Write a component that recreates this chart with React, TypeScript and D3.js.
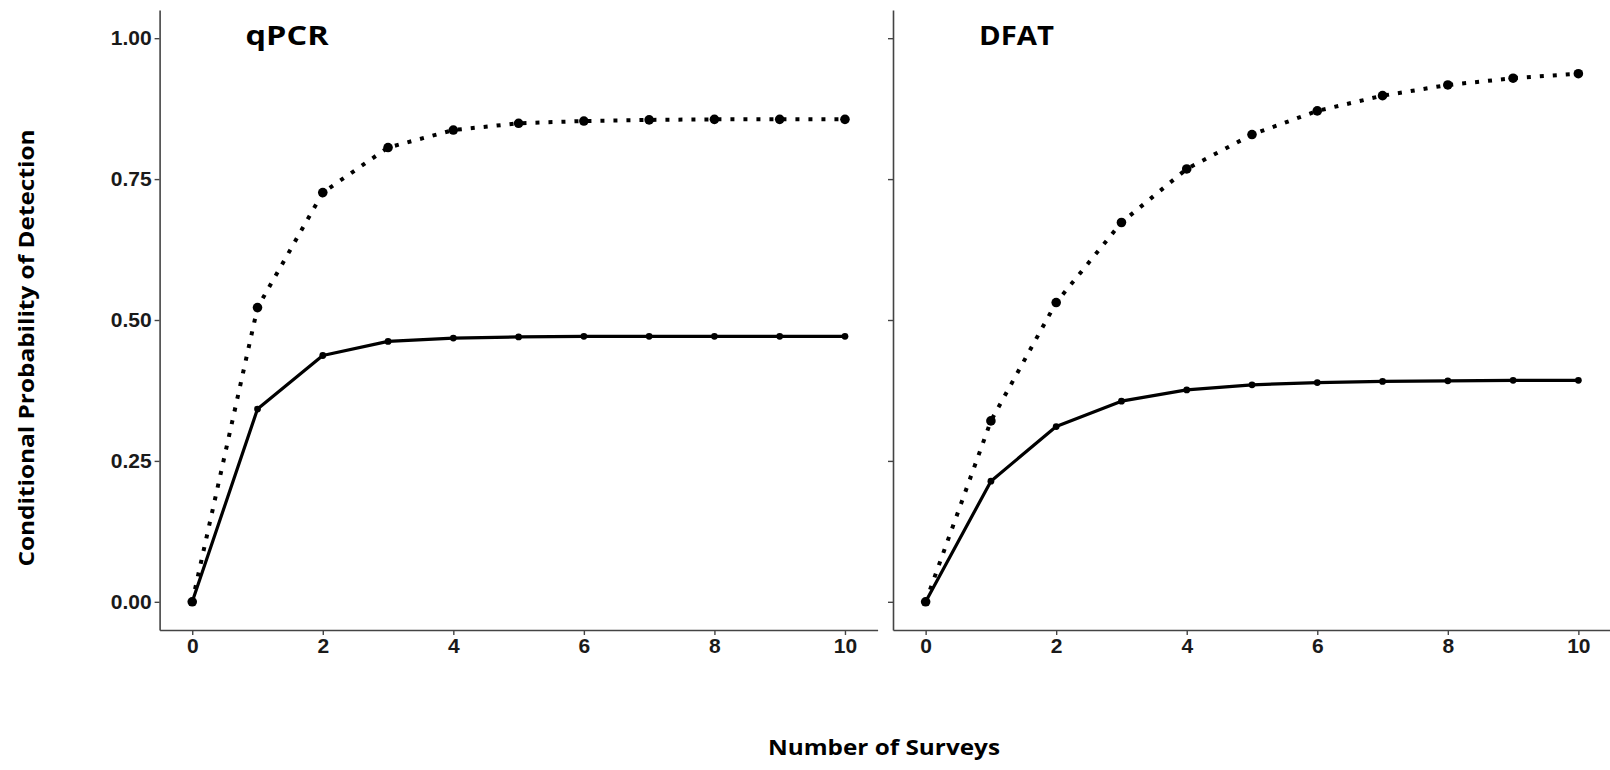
import React, { useRef, useEffect } from 'react';
import * as d3 from 'd3';

// survey counts on the x axis
const surveys = [0, 1, 2, 3, 4, 5, 6, 7, 8, 9, 10];

// qPCR panel
const qpcrDotted = [0, 0.522, 0.726, 0.806, 0.837, 0.849, 0.853, 0.855, 0.856, 0.856, 0.856];
const qpcrSolid = [0, 0.342, 0.437, 0.462, 0.468, 0.47, 0.471, 0.471, 0.471, 0.471, 0.471];

// DFAT panel
const dfatDotted = [0, 0.321, 0.531, 0.673, 0.768, 0.829, 0.871, 0.898, 0.917, 0.929, 0.937];
const dfatSolid = [0, 0.214, 0.311, 0.356, 0.376, 0.385, 0.389, 0.391, 0.392, 0.393, 0.393];

const panelTitles = ['qPCR', 'DFAT'];
const yTicks = [0, 0.25, 0.5, 0.75, 1];
const xTicks = [0, 2, 4, 6, 8, 10];

const W = 1610;
const H = 770;

function App() {
  const svgRef = useRef(null);

  useEffect(() => {
    const svg = d3.select(svgRef.current);
    svg.selectAll('*').remove();

    const panels = [
      { title: panelTitles[0], left: 159.6, dotted: qpcrDotted, solid: qpcrSolid, labels: true, titleW: 83 },
      { title: panelTitles[1], left: 893, dotted: dfatDotted, solid: dfatSolid, labels: false, titleW: 75 },
    ];
    const panelW = 718;

    const y = d3.scaleLinear().domain([-0.05, 1.05]).range([630, 10]);
    const axisColor = '#444';

    panels.forEach((p) => {
      const x = d3.scaleLinear().domain([-0.5, 10.5]).range([p.left, p.left + panelW]);
      const g = svg.append('g');

      // y axis
      const ya = g.append('g').attr('transform', `translate(${p.left},0)`)
        .call(d3.axisLeft(y).tickValues(yTicks).tickSizeInner(5).tickSizeOuter(0)
          .tickFormat(p.labels ? d3.format('.2f') : () => ''));
      ya.select('.domain').attr('stroke', axisColor).attr('stroke-width', 1.6);
      ya.selectAll('.tick line').attr('stroke', axisColor).attr('stroke-width', 1.4);
      ya.selectAll('.tick text')
        .attr('font-family', '"Liberation Sans", Arial, sans-serif')
        .attr('font-weight', 'bold').attr('font-size', 21).attr('fill', '#1a1a1a')
        .attr('x', -8);

      // x axis
      const xa = g.append('g').attr('transform', `translate(0,630)`)
        .call(d3.axisBottom(x).tickValues(xTicks).tickSizeInner(5).tickSizeOuter(0)
          .tickFormat(d3.format('d')));
      xa.select('.domain').attr('stroke', axisColor).attr('stroke-width', 1.6);
      xa.selectAll('.tick line').attr('stroke', axisColor).attr('stroke-width', 1.4);
      xa.selectAll('.tick text')
        .attr('font-family', '"Liberation Sans", Arial, sans-serif')
        .attr('font-weight', 'bold').attr('font-size', 21).attr('fill', '#1a1a1a')
        .attr('y', 8);

      const line = d3.line().x((d) => x(d[0])).y((d) => y(d[1]));

      // dotted series
      g.append('path')
        .datum(surveys.map((s, i) => [s, p.dotted[i]]))
        .attr('d', line)
        .attr('fill', 'none')
        .attr('stroke', '#000')
        .attr('stroke-width', 4)
        .attr('stroke-dasharray', '4 9');
      g.selectAll('.bigpt')
        .data(surveys)
        .join('circle')
        .attr('class', 'bigpt')
        .attr('cx', (s) => x(s))
        .attr('cy', (s, i) => y(p.dotted[i]))
        .attr('r', 4.8)
        .attr('fill', '#000');

      // solid series
      g.append('path')
        .datum(surveys.map((s, i) => [s, p.solid[i]]))
        .attr('d', line)
        .attr('fill', 'none')
        .attr('stroke', '#000')
        .attr('stroke-width', 3.2)
        .attr('stroke-linejoin', 'round');
      g.selectAll('.smallpt')
        .data(surveys)
        .join('circle')
        .attr('class', 'smallpt')
        .attr('cx', (s) => x(s))
        .attr('cy', (s, i) => y(p.solid[i]))
        .attr('r', 3.4)
        .attr('fill', '#000');

      // panel title
      g.append('text')
        .attr('x', p.left + 86)
        .attr('y', 45)
        .attr('font-family', '"Open Sans", sans-serif')
        .attr('font-weight', 'bold')
        .attr('font-size', 27)
        .attr('textLength', p.titleW)
        .attr('lengthAdjust', 'spacingAndGlyphs')
        .text(p.title);
    });

    // axis titles
    svg.append('text')
      .attr('transform', 'translate(34,348) rotate(-90)')
      .attr('text-anchor', 'middle')
      .attr('font-family', '"Open Sans", sans-serif')
      .attr('font-weight', 'bold')
      .attr('font-size', 22)
      .attr('textLength', 437)
      .attr('lengthAdjust', 'spacingAndGlyphs')
      .text('Conditional Probability of Detection');

    svg.append('text')
      .attr('x', 884)
      .attr('y', 755)
      .attr('text-anchor', 'middle')
      .attr('font-family', '"Open Sans", sans-serif')
      .attr('font-weight', 'bold')
      .attr('font-size', 22)
      .attr('textLength', 232)
      .attr('lengthAdjust', 'spacingAndGlyphs')
      .text('Number of Surveys');
  }, []);

  return (
    <svg
      ref={svgRef}
      width={W}
      height={H}
      style={{ position: 'absolute', left: 0, top: 0, background: '#fff' }}
    ></svg>
  );
}

export default App;
